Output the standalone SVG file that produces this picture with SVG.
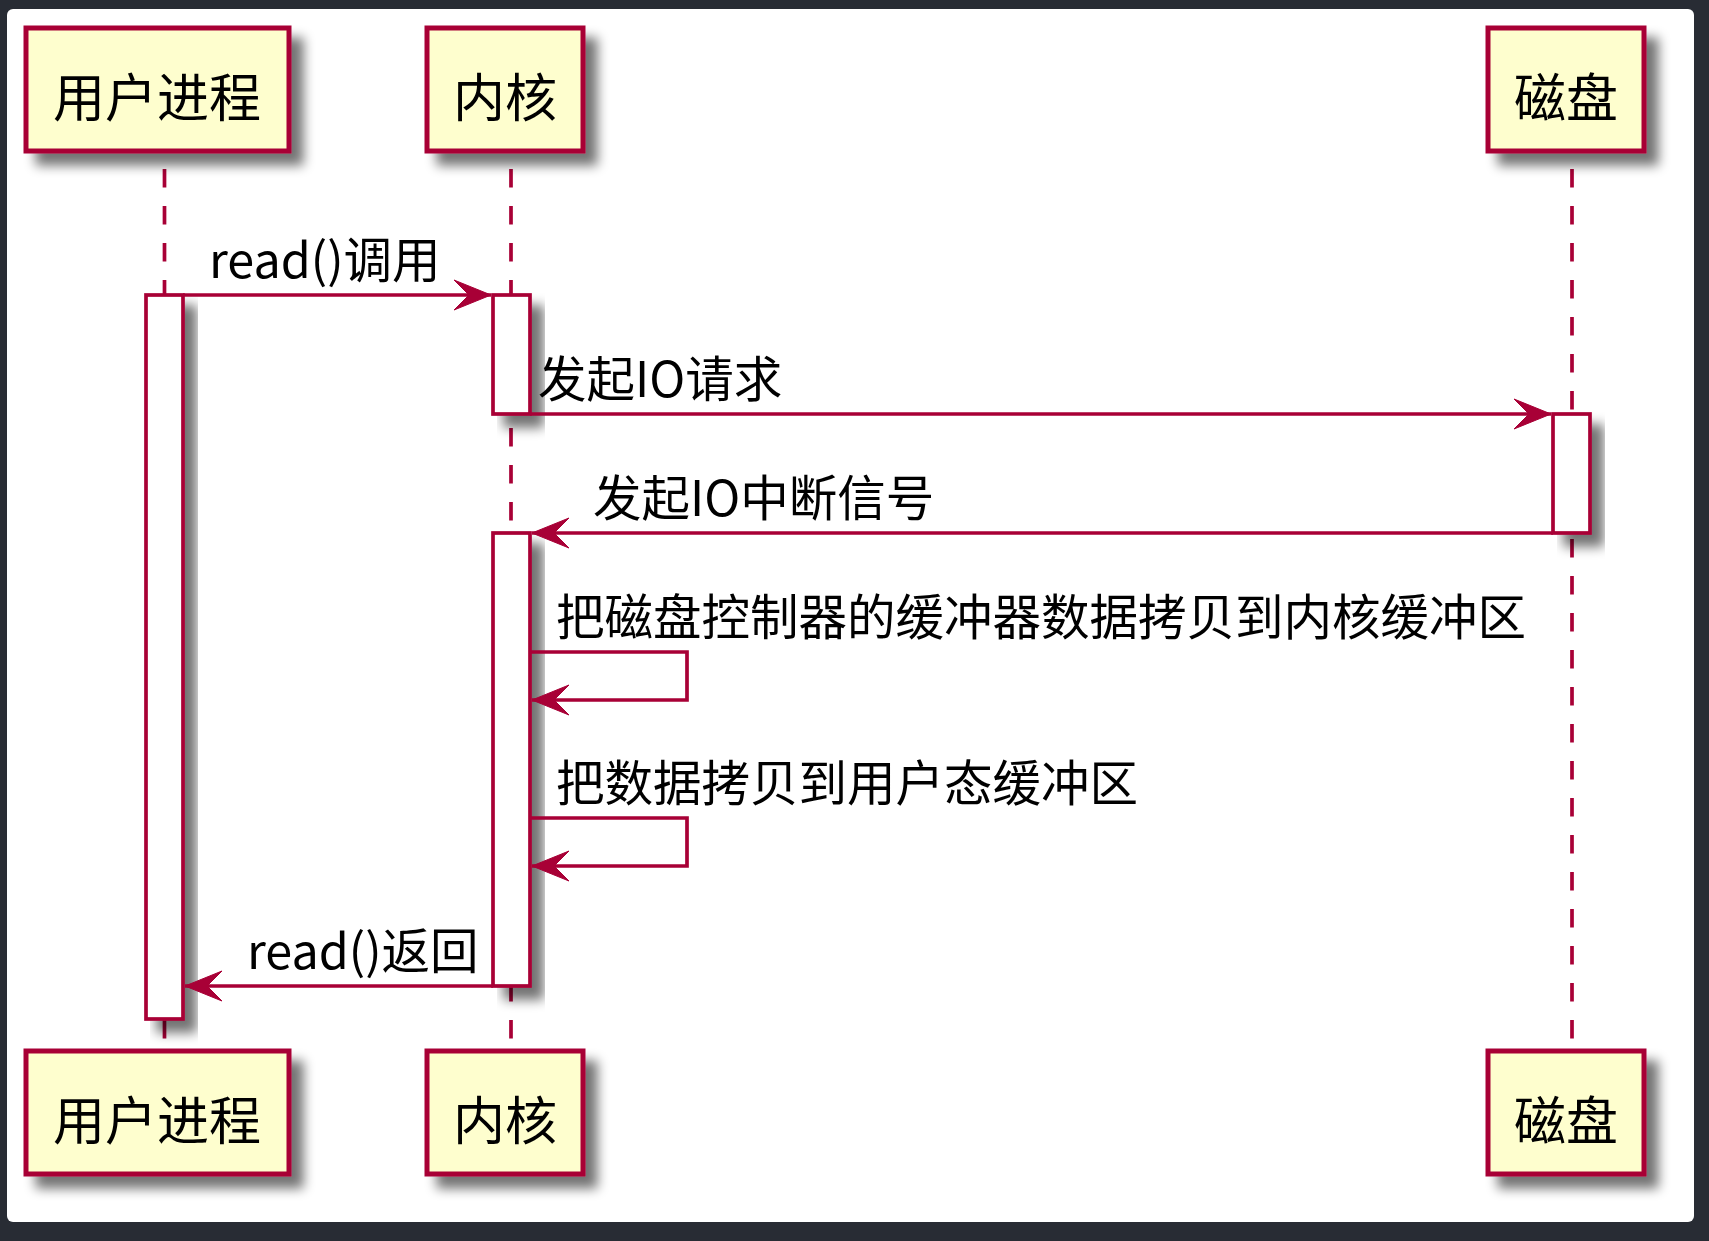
<svg xmlns="http://www.w3.org/2000/svg" width="1709" height="1241" viewBox="0 0 1709 1241">
<defs>
<style>
.part{fill:#FEFECE;stroke:#A80036;stroke-width:5}
.act{fill:#FFFFFF;stroke:#A80036;stroke-width:3.7}
.life{stroke:#A80036;stroke-width:3.7;stroke-dasharray:18.5 18.5;fill:none}
.msg{stroke:#A80036;stroke-width:3.7;fill:none;marker-end:url(#arr)}
.pt{font-family:"Noto Sans CJK SC","Noto Sans",sans-serif;font-size:52px;fill:#000;text-anchor:middle}
.mt{font-family:"Noto Sans CJK SC","Noto Sans",sans-serif;font-size:48.5px;fill:#000}
</style>
<filter id="sh" x="-20%" y="-20%" width="160%" height="160%">
<feGaussianBlur in="SourceAlpha" stdDeviation="6"/>
<feOffset dx="12" dy="12" result="b"/>
<feComponentTransfer><feFuncA type="linear" slope="0.55"/></feComponentTransfer>
<feMerge><feMergeNode/><feMergeNode in="SourceGraphic"/></feMerge>
</filter>
<marker id="arr" markerUnits="userSpaceOnUse" markerWidth="40" markerHeight="34" viewBox="-38 -16 40 32" refX="0" refY="0" orient="auto" overflow="visible">
<path d="M0,0 L-37,-15 L-22,0 L-37,15 Z" fill="#A80036" stroke="#A80036" stroke-width="1"/>
</marker>
</defs>
<rect x="0" y="0" width="1709" height="1241" fill="#282C34"/>
<rect x="7" y="9" width="1687" height="1213" rx="6" fill="#FFFFFF"/>

<g id="lifelines">
<line class="life" x1="164.5" y1="169" x2="164.5" y2="1050"/>
<line class="life" x1="511" y1="169" x2="511" y2="1050"/>
<line class="life" x1="1572" y1="169" x2="1572" y2="1050"/>
</g>

<g id="p-user-top"><rect class="part" x="26" y="28" width="263" height="123" filter="url(#sh)"/><text class="pt" x="157" y="117">用户进程</text></g>
<g id="p-kernel-top"><rect class="part" x="427" y="28" width="156" height="123" filter="url(#sh)"/><text class="pt" x="505" y="117">内核</text></g>
<g id="p-disk-top"><rect class="part" x="1488" y="28" width="156" height="123" filter="url(#sh)"/><text class="pt" x="1566" y="117">磁盘</text></g>

<g id="p-user-bottom"><rect class="part" x="26" y="1051" width="263" height="123" filter="url(#sh)"/><text class="pt" x="157" y="1140">用户进程</text></g>
<g id="p-kernel-bottom"><rect class="part" x="427" y="1051" width="156" height="123" filter="url(#sh)"/><text class="pt" x="505" y="1140">内核</text></g>
<g id="p-disk-bottom"><rect class="part" x="1488" y="1051" width="156" height="123" filter="url(#sh)"/><text class="pt" x="1566" y="1140">磁盘</text></g>

<g id="activations">
<rect class="act" x="146" y="295" width="37" height="724" filter="url(#sh)"/>
<rect class="act" x="493" y="295" width="37" height="119" filter="url(#sh)"/>
<rect class="act" x="1553" y="414" width="37" height="119" filter="url(#sh)"/>
<rect class="act" x="493" y="533" width="37" height="453" filter="url(#sh)"/>
</g>

<g id="connectors">
<line class="msg" x1="183" y1="295" x2="491" y2="295"/>
<line class="msg" x1="530" y1="414" x2="1551" y2="414"/>
<line class="msg" x1="1553" y1="533" x2="532" y2="533"/>
<path class="msg" d="M530,652 H687 V700 H532"/>
<path class="msg" d="M530,818 H687 V866 H532"/>
<line class="msg" x1="493" y1="986" x2="185" y2="986"/>
</g>

<g id="labels">
<text class="mt" x="209" y="278">read()调用</text>
<text class="mt" x="538" y="397">发起IO请求</text>
<text class="mt" x="593" y="516">发起IO中断信号</text>
<text class="mt" x="556" y="635">把磁盘控制器的缓冲器数据拷贝到内核缓冲区</text>
<text class="mt" x="556" y="801">把数据拷贝到用户态缓冲区</text>
<text class="mt" x="247" y="969">read()返回</text>
</g>
</svg>
